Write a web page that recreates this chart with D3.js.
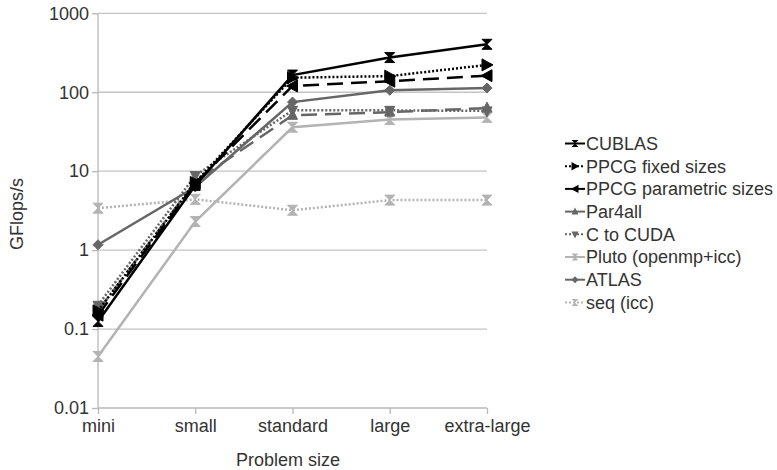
<!DOCTYPE html>
<html lang="en">
<head>
    <meta charset="UTF-8"/>
    <title>GFlops per problem size</title>
    <script src="https://d3js.org/d3.v7.min.js"></script>
    <style>
        body { margin: 0; background: #fff; }
        text { font-family: "Liberation Sans", Arial, sans-serif; fill: #333; }
    </style>
</head>
<body>
    <script>
        var w = 777;
        var h = 470;

        // data
        var categories = ["mini", "small", "standard", "large", "extra-large"];
        var yTicks = [0.01, 0.1, 1, 10, 100, 1000];
        var seriesNames = ["CUBLAS", "PPCG fixed sizes", "PPCG parametric sizes", "Par4all",
                           "C to CUDA", "Pluto (openmp+icc)", "ATLAS", "seq (icc)"];
        var cublas    = [0.125, 6.6, 165, 275, 405];
        var ppcgFixed = [0.17, 7.2, 153, 160, 222];
        var ppcgParam = [0.15, 7.0, 120, 138, 162];
        var par4all   = [0.17, 7.4, 51, 56, 63];
        var cToCuda   = [0.2, 8.8, 59, 59, 58];
        var pluto     = [0.045, 2.3, 36, 45, 48];
        var atlas     = [1.17, 6.3, 75, 106, 113];
        var seqIcc    = [3.4, 4.4, 3.2, 4.3, 4.3];

        var values = [cublas, ppcgFixed, ppcgParam, par4all, cToCuda, pluto, atlas, seqIcc];

        // drawing styles, one per series
        var hourglass = "M-5,-5L5,-5L0,0L5,5L-5,5L0,0Z";
        var styles = [
            { color: "#000", dash: null,    width: 2.5, marker: hourglass },
            { color: "#000", dash: "2,2",   width: 2.5, marker: "M-5,-6L6,0L-5,6Z" },
            { color: "#000", dash: "16,8",  width: 2.5, marker: "M5,-6L-6,0L5,6Z" },
            { color: "#666", dash: "16,8",  width: 2.5, marker: "M-5,4L0,-6L5,4Z" },
            { color: "#666", dash: "2,2",   width: 2.5, marker: "M-5,-4L0,6L5,-4Z" },
            { color: "#b3b3b3", dash: null, width: 2.5, marker: hourglass },
            { color: "#666", dash: null,    width: 2.5, marker: "M0,-5L5,0L0,5L-5,0Z" },
            { color: "#b3b3b3", dash: "2,2", width: 2.5, marker: hourglass }
        ];

        var fontSize = "18px";
        var margin = { left: 98, right: 290, top: 13.3, bottom: 62 };

        var xScale = d3.scalePoint()
            .domain(categories)
            .range([margin.left, w - margin.right]);

        var yScale = d3.scaleLog()
            .domain([0.01, 1000])
            .range([h - margin.bottom, margin.top]);

        var svg = d3.select("body")
            .append("svg")
            .attr("width", w)
            .attr("height", h);

        // gridlines
        svg.append("g")
            .selectAll("line")
            .data(yTicks.slice(1))
            .enter()
            .append("line")
            .attr("x1", margin.left)
            .attr("x2", w - margin.right)
            .attr("y1", function(d) { return yScale(d); })
            .attr("y2", function(d) { return yScale(d); })
            .attr("stroke", "#c4c4c4")
            .attr("stroke-width", 1.3);

        // y axis
        var yAxis = svg.append("g")
            .attr("transform", "translate(" + margin.left + ",0)")
            .call(d3.axisLeft(yScale).tickValues(yTicks).tickSize(6).tickPadding(3)
                .tickFormat(function(d) { return String(d); }));

        // x axis
        var xAxis = svg.append("g")
            .attr("transform", "translate(0," + (h - margin.bottom) + ")")
            .call(d3.axisBottom(xScale).tickSize(6).tickPadding(5));

        [yAxis, xAxis].forEach(function(ax) {
            ax.select(".domain").attr("stroke", "#b8b8b8").attr("stroke-width", 1.3);
            ax.selectAll(".tick line").attr("stroke", "#b8b8b8").attr("stroke-width", 1.3);
            ax.selectAll(".tick text").attr("font-size", fontSize).attr("fill", "#333");
        });
        xAxis.select(".domain").attr("d", "M" + margin.left + ",0H" + (w - margin.right));
        yAxis.select(".domain").attr("d", "M0," + yScale(1000) + "V" + yScale(0.01));

        // axis titles
        svg.append("text")
            .attr("text-anchor", "middle")
            .attr("x", 288)
            .attr("y", 466)
            .attr("font-size", fontSize)
            .text("Problem size");

        svg.append("text")
            .attr("text-anchor", "middle")
            .attr("transform", "translate(23," + 214 + ") rotate(-90)")
            .attr("font-size", fontSize)
            .text("GFlops/s");

        var line = d3.line()
            .x(function(d, i) { return xScale(categories[i]); })
            .y(function(d) { return yScale(d); });

        // lines and markers, drawn bottom-up so CUBLAS ends on top
        for (var s = values.length - 1; s >= 0; s--) {
            var st = styles[s];
            var g = svg.append("g");
            g.append("path")
                .datum(values[s])
                .attr("d", line)
                .attr("fill", "none")
                .attr("stroke", st.color)
                .attr("stroke-width", st.width)
                .attr("stroke-dasharray", st.dash);
            g.selectAll("path.mk")
                .data(values[s])
                .enter()
                .append("path")
                .attr("class", "mk")
                .attr("d", st.marker)
                .attr("transform", function(d, i) {
                    return "translate(" + xScale(categories[i]) + "," + yScale(d) + ")";
                })
                .attr("fill", st.color)
                .attr("stroke", st.color)
                .attr("stroke-width", 1);
        }

        // legend
        var legend = svg.append("g")
            .attr("transform", "translate(565,143.5)");

        var items = legend.selectAll("g")
            .data(seriesNames)
            .enter()
            .append("g")
            .attr("transform", function(d, i) { return "translate(0," + (i * 22.7) + ")"; });

        // short samples: long dashes look solid, dots stay dotted
        items.append("line")
            .attr("x1", 0)
            .attr("x2", 20)
            .attr("stroke", function(d, i) { return styles[i].color; })
            .attr("stroke-width", 2)
            .attr("stroke-dasharray", function(d, i) { return styles[i].dash === "2,2" ? "2,2" : null; });

        items.append("path")
            .attr("d", function(d, i) { return styles[i].marker; })
            .attr("transform", "translate(10,0) scale(0.7)")
            .attr("fill", function(d, i) { return styles[i].color; });

        items.append("text")
            .attr("x", 21)
            .attr("dy", "0.35em")
            .attr("font-size", fontSize)
            .text(function(d) { return d; });
    </script>
</body>
</html>
